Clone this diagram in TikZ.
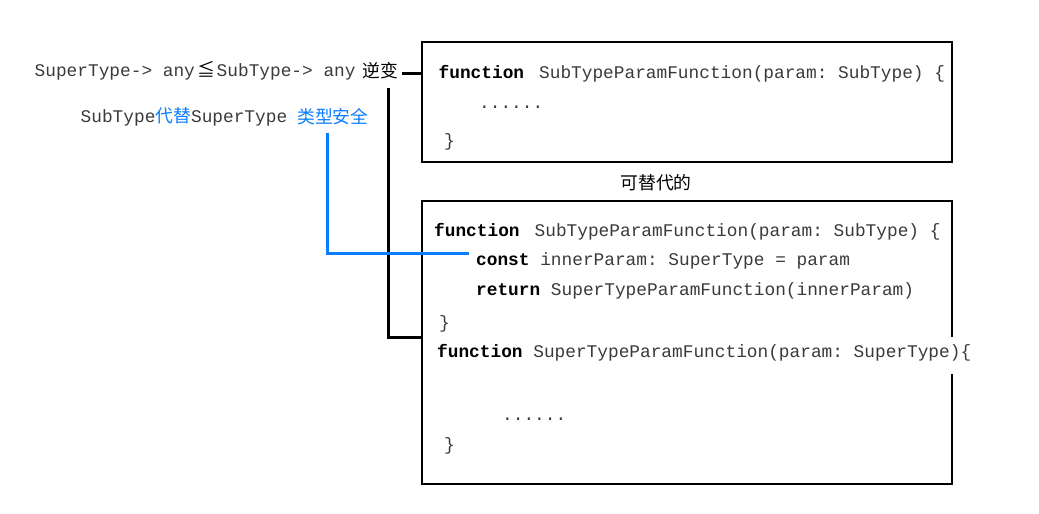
\documentclass[tikz,border=0pt]{standalone}
\usepackage{fontspec}
\setmonofont{Liberation Mono}
\newfontfamily\cjk{Noto Sans CJK SC}
\usepackage{tikz}

\definecolor{codegray}{HTML}{3A3A3A}
\definecolor{safeblue}{RGB}{10,125,255}
\newcommand{\codefont}{\fontsize{17.8}{21}\selectfont\ttfamily}
\newcommand{\kw}[1]{\textcolor{black}{\textbf{#1}}}

\begin{document}
\begin{tikzpicture}[x=1pt,y=-1pt,
  code/.style={anchor=base west, inner sep=0pt, text=codegray, font=\codefont},
  note/.style={anchor=base west, inner sep=0pt, font=\codefont\cjk},
  codebox/.style={draw, line width=2pt, minimum width=530pt, inner sep=0pt},
  link/.style={line width=3pt},
  safelink/.style={line width=3pt, draw=safeblue}]
  \useasboundingbox (0,0) rectangle (1039,514);

  % Function boxes
  \node[codebox, minimum height=120pt] (top) at (687,102) {};
  \node[codebox, minimum height=283pt] (low) at (687,342.5) {};

  % Type relation
  \node[code] (rel) at (34.5,76) {SuperType-> any\kern3pt{\cjk\color{black}≦}\kern1pt SubType-> any};
  \node[note] (contra) at (362,77) {逆变};
  \node[code] (subst) at (80.5,122.5) {SubType{\cjk\color{safeblue}代替}SuperType};
  \node[note, text=safeblue] (safe) at (297,123) {类型安全};

  % Top box
  \node[code] (topsig) at (438.5,78) {\kw{function}\hspace{15pt}SubTypeParamFunction(param: SubType) \{};
  \node[code] (topdots) at (479,108) {......};
  \node[code] (topend) at (444,146) {\}};

  \node[note, anchor=base] (alt) at (656,189) {可替代的};

  % Lower box
  \node[code] (lowsig) at (434,236) {\kw{function}\hspace{15pt}SubTypeParamFunction(param: SubType) \{};
  \node[code] (lowconst) at (476,265) {\kw{const} innerParam: SuperType = param};
  \node[code] (lowret) at (476,295) {\kw{return} SuperTypeParamFunction(innerParam)};
  \node[code] (lowend) at (439,328) {\}};
  \node[code, fill=white, text height=14pt, text depth=11pt, inner ysep=6pt] (supsig) at (437,357) {\kw{function} SuperTypeParamFunction(param: SuperType)\{};
  \node[code] (lowdots) at (502,420) {......};
  \node[code] (supend) at (444,450) {\}};

  % Contravariance links
  \coordinate (contraend) at ([xshift=4pt,yshift=-3.3pt]contra.east);
  \coordinate (contrafoot) at (388,88);
  \draw[link] (contraend) -- (contraend -| top.west);
  \draw[link] (contrafoot) |- (low.west |- 0,337);

  % Type safety link
  \coordinate (safetail) at (327,133);
  \coordinate (safehook) at (469,253);
  \draw[safelink] (safetail) |- (safehook);
\end{tikzpicture}
\end{document}
